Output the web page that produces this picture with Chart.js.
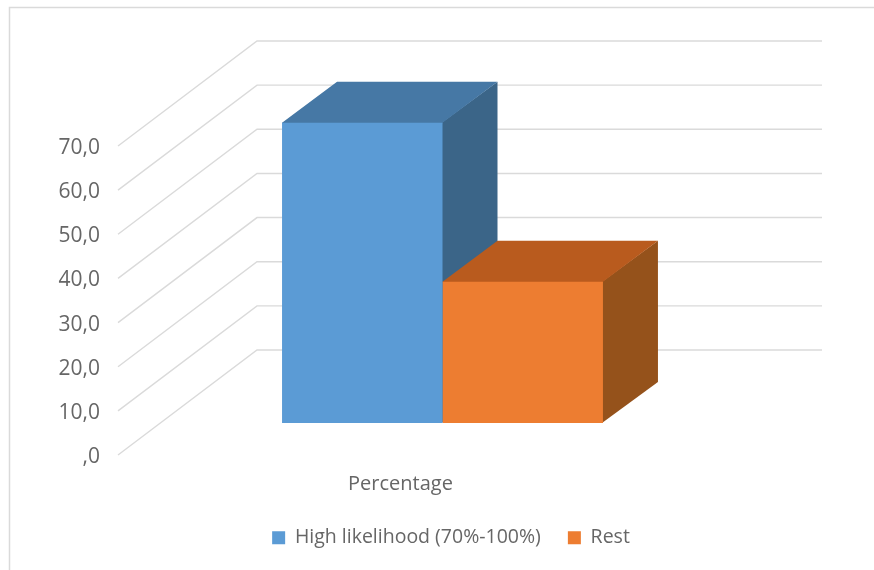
<!DOCTYPE html>
<html>
<head>
<meta charset="utf-8">
<style>
  html, body { margin: 0; padding: 0; background: #fff; }
  #wrap { width: 874px; height: 570px; }
</style>
<script src="https://cdn.jsdelivr.net/npm/chart.js@4"></script>
</head>
<body>
<div id="wrap"><canvas id="grafica"></canvas></div>
<script>
const categories = ['Percentage'];
const seriesNames = ['High likelihood (70%-100%)', 'Rest'];
const highValues = [68];
const restValues = [32];
const tickLabels = [',0', '10,0', '20,0', '30,0', '40,0', '50,0', '60,0', '70,0'];

const colorGrid = '#dadada';
const colorText = '#666666';

// perspective offsets of the 3D look, in px
const wallDx = 139, wallDy = -105;
const barDx = 42, barDy = -32;
const depthDx = 55, depthDy = -41;

function cara(ctx, color, puntos) {
  ctx.fillStyle = color;
  ctx.beginPath();
  puntos.forEach((p, i) => i ? ctx.lineTo(p[0], p[1]) : ctx.moveTo(p[0], p[1]));
  ctx.closePath();
  ctx.fill();
}

const falso3d = {
  id: 'falso3d',
  afterLayout(chart) {
    // legend is centred on the whole picture, not on the plot, and sits lower
    const legend = chart.legend;
    const alto = legend.bottom - legend.top;
    legend.left = 0;
    legend.right = 902;
    legend.top = 501;
    legend.bottom = 501 + alto;
  },
  beforeDatasetsDraw(chart) {
    const ctx = chart.ctx;
    const y = chart.scales.y;
    const area = chart.chartArea;

    // outer frame
    ctx.save();
    ctx.strokeStyle = colorGrid;
    ctx.lineWidth = 1.5;
    ctx.beginPath();
    ctx.moveTo(9.5, 570);
    ctx.lineTo(9.5, 7.5);
    ctx.lineTo(874, 7.5);
    ctx.stroke();

    // floor/wall lines
    ctx.lineWidth = 1.4;
    y.ticks.forEach(t => {
      const py = y.getPixelForValue(t.value);
      ctx.beginPath();
      ctx.moveTo(area.left, py);
      ctx.lineTo(area.left + wallDx, py + wallDy);
      ctx.lineTo(area.right + wallDx, py + wallDy);
      ctx.stroke();
    });

    // top and side of each bar, back to front
    // they run 1px under the front face so no seam shows
    const tonos = [['#4678a5', '#3b6588'], ['#b95b1e', '#95521b']];
    chart.data.datasets.forEach((ds, i) => {
      const b = chart.getDatasetMeta(i).data[0];
      const izq = b.x - b.width / 2 + barDx;
      const der = b.x + b.width / 2 + barDx;
      const arriba = b.y + barDy;
      const abajo = b.base + barDy;
      cara(ctx, tonos[i][1], [[der - 1, arriba], [der + depthDx, arriba + depthDy], [der + depthDx, abajo + depthDy], [der - 1, abajo]]);
      cara(ctx, tonos[i][0], [[izq, arriba + 1], [izq, arriba], [izq + depthDx, arriba + depthDy], [der + depthDx, arriba + depthDy], [der, arriba], [der, arriba + 1]]);
    });

    // front faces are the real bars, moved into the depth
    ctx.translate(barDx, barDy);
  },
  afterDatasetsDraw(chart) {
    chart.ctx.restore();
  }
};

new Chart(document.getElementById('grafica'), {
  type: 'bar',
  data: {
    labels: categories,
    datasets: [
      { label: seriesNames[0], data: highValues, backgroundColor: '#5b9bd5', clip: false },
      { label: seriesNames[1], data: restValues, backgroundColor: '#ed7d31', clip: false }
    ]
  },
  plugins: [falso3d],
  options: {
    responsive: true,
    maintainAspectRatio: false,
    animation: false,
    layout: { padding: { left: 0, right: 191, top: 146, bottom: 0 } },
    datasets: { bar: { barPercentage: 1, categoryPercentage: 0.568 } },
    plugins: {
      legend: {
        position: 'bottom',
        labels: {
          boxWidth: 13,
          boxHeight: 13,
          padding: 27,
          color: colorText,
          font: { family: '"Open Sans"', size: 19.5 }
        }
      },
      tooltip: { enabled: false }
    },
    scales: {
      x: {
        grid: { display: false },
        border: { display: false },
        ticks: { color: colorText, padding: 9, font: { family: '"Open Sans"', size: 20 } },
        afterFit(scale) { scale.height = 58.5; }
      },
      y: {
        min: 0,
        max: 70,
        grid: { display: false },
        border: { display: false },
        ticks: {
          stepSize: 10,
          padding: 10,
          labelOffset: 2,
          color: colorText,
          font: { family: '"Open Sans"', size: 21 },
          callback: (value) => tickLabels[value / 10]
        },
        afterFit(scale) { scale.width = 118; }
      }
    }
  }
});
</script>
</body>
</html>
